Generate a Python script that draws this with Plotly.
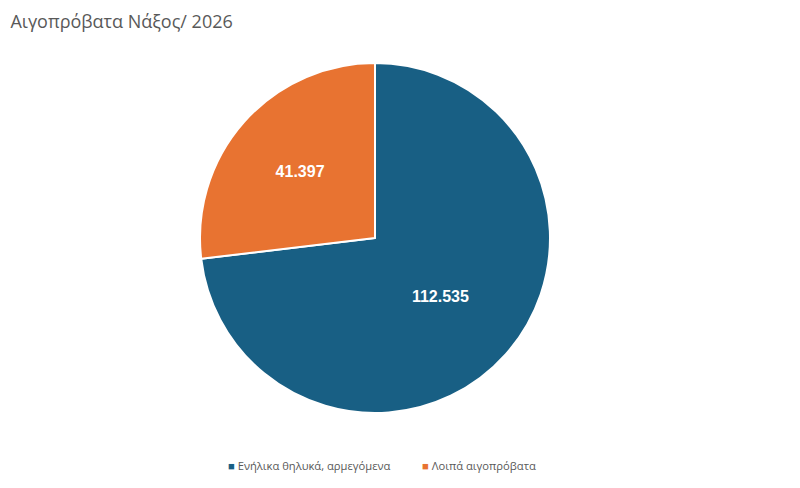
import plotly.graph_objects as go

labels = ["Ενήλικα θηλυκά, αρμεγόμενα", "Λοιπά αιγοπρόβατα"]
values = [112535, 41397]
colors = ["#185F84", "#E87331"]

fig = go.Figure(go.Pie(
    labels=labels,
    values=values,
    sort=False,
    direction="clockwise",
    rotation=0,
    marker=dict(colors=colors, line=dict(color="white", width=2)),
    texttemplate="<b>%{value:,}</b>",
    textposition="inside",
    insidetextorientation="horizontal",
    textfont=dict(color="white", size=16, family="Liberation Sans"),
    domain=dict(x=[0.24, 0.6775], y=[0.17, 0.8874]),
    hoverinfo="label+value",
    showlegend=False,
))

# legend drawn as annotations
legend_x = [0.272, 0.515]
anns = []
for lab, col, lx in zip(labels, colors, legend_x):
    anns.append(dict(text=f"<span style='color:{col}'>■</span> {lab}", x=lx, y=0.063,
                     xref="paper", yref="paper", xanchor="left", yanchor="middle",
                     showarrow=False, font=dict(size=11.2, color="#595959", family="Open Sans")))

fig.update_layout(
    width=800, height=488,
    separators=",.",
    paper_bgcolor="white",
    margin=dict(l=0, r=0, t=0, b=0),
    title=dict(text="Αιγοπρόβατα Νάξος/ 2026", x=0.003, xanchor="left", y=0.972, yanchor="middle",
               font=dict(size=18, color="#595959", family="Open Sans")),
    annotations=anns,
)

fig.write_html("out.html")
